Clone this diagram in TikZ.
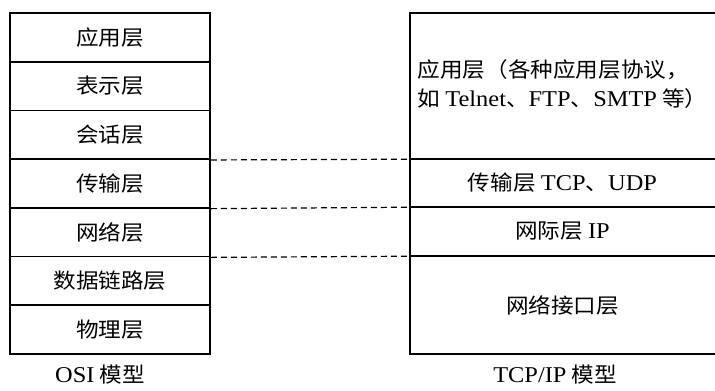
\documentclass[tikz,border=0pt]{standalone}
\usepackage{fontspec}
\setmainfont{Liberation Serif}[FakeStretch=1.08, Scale=1.08]
\newfontfamily\cjk{Noto Sans CJK SC}[FakeStretch=1.08]
\newcommand\lat[1]{{\rmfamily #1}}
\begin{document}
\begin{tikzpicture}[x=1bp,y=-1bp,
  every node/.style={font=\cjk\fontsize{21}{30}\selectfont, inner sep=0pt},
  layer/.style={draw, line width=1.6bp, minimum width=200bp, minimum height=48.7bp},
  tlayer/.style={minimum width=305bp},
  edge/.style={line width=1.6bp},
  dashline/.style={line width=1.2bp, dash pattern=on 6bp off 4bp}]
\useasboundingbox (0,0) rectangle (715,390);
% OSI layers
\node[layer] (l1) at (110,37.4) {应用层};
\node[layer] (l2) at (110,86.1) {表示层};
\node[layer] (l3) at (110,134.8) {会话层};
\node[layer] (l4) at (110,183.5) {传输层};
\node[layer] (l5) at (110,232.2) {网络层};
\node[layer] (l6) at (110,280.9) {数据链路层};
\node[layer] (l7) at (110,329.6) {物理层};
% TCP/IP layers
\node[tlayer, minimum height=146bp] (r1) at (562.5,86)
  {\begin{tabular}{@{}l@{}}应用层（各种应用层协议，\\[-1pt]如 \lat{Telnet}、\lat{FTP}、\lat{SMTP} 等）\end{tabular}};
\node[tlayer, minimum height=48bp] (r2) at (562.5,183) {传输层 \lat{TCP}、\lat{UDP}};
\node[tlayer, minimum height=49bp] (r3) at (562.5,231.5) {网际层 \lat{IP}};
\node[tlayer, minimum height=98bp] (r4) at (562.5,305) {网络接口层};
\draw[edge] (r1.north east) -- (r1.north west) -- (r4.south west) -- (r4.south east);
\draw[edge] (r1.south west) -- (r1.south east);
\draw[edge] (r2.south west) -- (r2.south east);
\draw[edge] (r3.south west) -- (r3.south east);
% correspondences
\draw[dashline] (l3.south east) -- (r1.south west);
\draw[dashline] (l4.south east) -- (r2.south west);
\draw[dashline] (l5.south east) -- (r3.south west);
% captions
\node (cosi) at (100,375) {\lat{OSI} 模型};
\node (ctcp) at (555,375) {\lat{TCP/IP} 模型};
\end{tikzpicture}
\end{document}
